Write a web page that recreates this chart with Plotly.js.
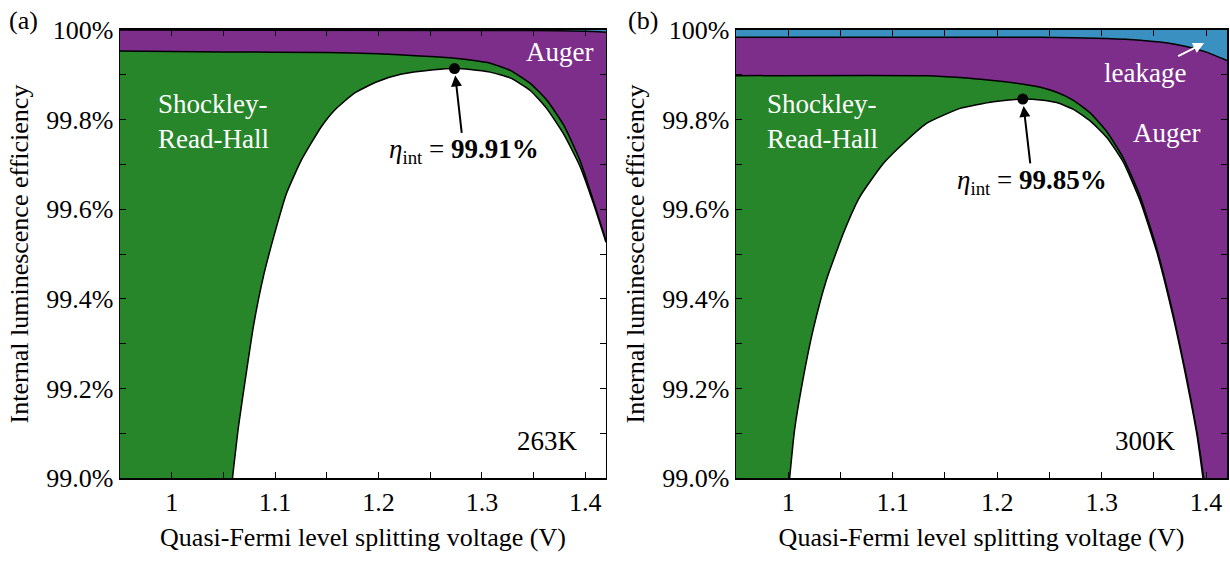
<!DOCTYPE html>
<html><head><meta charset="utf-8">
<script src="https://cdn.plot.ly/plotly-3.0.1.min.js"></script>
<style>body{margin:0;background:#fff}#chart{width:1230px;height:561px}</style>
</head><body><div id="chart"></div>
<script>
// ---------- Panel (a) 263K ----------
const aTopX = [0.95, 1.42];
const aTopY = [100, 100];
const aAugTopX = [0.95, 1.35, 1.40, 1.42];
const aAugTopY = [100.0, 99.999, 99.997, 99.995];
const aSrhTopX = [0.95, 1.05, 1.15, 1.2, 1.24, 1.27, 1.2887, 1.308, 1.3274, 1.3468, 1.3629, 1.379, 1.3952, 1.408, 1.42];
const aSrhTopY = [99.953, 99.951, 99.95, 99.947, 99.942, 99.938, 99.933, 99.926, 99.91, 99.881, 99.843, 99.788, 99.707, 99.617, 99.53];
const aEtaX = [1.0588, 1.0646, 1.0716, 1.079, 1.0886, 1.1014, 1.111, 1.1255, 1.1447, 1.1575, 1.1767, 1.1992, 1.2215, 1.2535, 1.2735, 1.2887, 1.308, 1.3274, 1.3468, 1.3629, 1.379, 1.3952, 1.408, 1.42];
const aEtaY = [99.0, 99.115, 99.226, 99.338, 99.449, 99.561, 99.635, 99.71, 99.784, 99.821, 99.859, 99.885, 99.901, 99.911, 99.914, 99.912, 99.906, 99.893, 99.865, 99.824, 99.768, 99.694, 99.612, 99.526];
const aPeak = {x: 1.2735, y: 99.914, label: '99.91%', temp: '263K'};

// ---------- Panel (b) 300K ----------
const bTopX = [0.95, 1.42];
const bTopY = [100, 100];
const bAugTopX = [0.95, 1.1, 1.2, 1.2414, 1.305, 1.337, 1.369, 1.385, 1.401, 1.42];
const bAugTopY = [99.984, 99.984, 99.984, 99.984, 99.981, 99.977, 99.969, 99.961, 99.95, 99.932];
const bSrhTopX = [0.95, 1.1325, 1.1644, 1.196, 1.228, 1.2414, 1.257, 1.273, 1.289, 1.305, 1.321, 1.337, 1.353, 1.369, 1.3818, 1.3914, 1.3977];
const bSrhTopY = [99.898, 99.898, 99.894, 99.887, 99.878, 99.872, 99.861, 99.843, 99.815, 99.773, 99.713, 99.628, 99.51, 99.36, 99.219, 99.1, 99.0];
const bEtaX = [1.0013, 1.006, 1.014, 1.0237, 1.0365, 1.0541, 1.0686, 1.091, 1.1135, 1.1327, 1.1644, 1.1964, 1.2245, 1.2414, 1.257, 1.273, 1.289, 1.305, 1.321, 1.337, 1.353, 1.369, 1.3818, 1.3914, 1.397];
const bEtaY = [99.0, 99.107, 99.219, 99.33, 99.442, 99.554, 99.628, 99.702, 99.754, 99.792, 99.825, 99.840, 99.846, 99.844, 99.838, 99.823, 99.797, 99.76, 99.704, 99.618, 99.503, 99.354, 99.213, 99.094, 99.0];
const bPeak = {x: 1.2245, y: 99.846, label: '99.85%', temp: '300K'};

// ---------- Axis ticks ----------
const xTickVals = [1, 1.1, 1.2, 1.3, 1.4];
const xTickText = ['1', '1.1', '1.2', '1.3', '1.4'];
const yTickVals = [99.0, 99.2, 99.4, 99.6, 99.8, 100];
const yTickText = ['99.0%', '99.2%', '99.4%', '99.6%', '99.8%', '100%'];
const xRange = [0.95, 1.42];
const yRange = [99.0, 100.0];

const C_BLUE = '#3b90c2', C_PURPLE = '#7d2e8b', C_GREEN = '#27862a';
const FONT = 'Liberation Serif';

function area(x, y, color, xa, ya, lw) {
  return {x: x, y: y, xaxis: xa, yaxis: ya, type: 'scatter', mode: 'lines',
    fill: 'tozeroy', fillcolor: color,
    line: {color: '#000', width: lw, shape: 'spline', smoothing: 0.5},
    hoverinfo: 'skip', showlegend: false};
}

const traces = [
  area(aTopX, aTopY, C_BLUE, 'x', 'y', 0),
  area(aAugTopX, aAugTopY, C_PURPLE, 'x', 'y', 1.5),
  area(aSrhTopX, aSrhTopY, C_GREEN, 'x', 'y', 1.5),
  area(aEtaX, aEtaY, '#ffffff', 'x', 'y', 1.5),
  {x: [aPeak.x], y: [aPeak.y], xaxis: 'x', yaxis: 'y', mode: 'markers', type: 'scatter',
   marker: {color: '#000', size: 11}, showlegend: false, hoverinfo: 'skip'},
  area(bTopX, bTopY, C_BLUE, 'x2', 'y2', 0),
  area(bAugTopX, bAugTopY, C_PURPLE, 'x2', 'y2', 1.5),
  area(bSrhTopX, bSrhTopY, C_GREEN, 'x2', 'y2', 1.5),
  area(bEtaX, bEtaY, '#ffffff', 'x2', 'y2', 1.5),
  {x: [bPeak.x], y: [bPeak.y], xaxis: 'x2', yaxis: 'y2', mode: 'markers', type: 'scatter',
   marker: {color: '#000', size: 11}, showlegend: false, hoverinfo: 'skip'}
];

function xAxis(domain, anchor) {
  return {domain: domain, anchor: anchor, range: xRange, showgrid: false, zeroline: false,
    showline: true, linecolor: '#000', linewidth: 2, mirror: 'allticks',
    ticks: 'inside', ticklen: 6, tickwidth: 1, tickcolor: '#000',
    tickmode: 'array', tickvals: xTickVals, ticktext: xTickText,
    minor: {dtick: 0.05, tick0: 1, ticks: 'inside', ticklen: 6, tickwidth: 1, tickcolor: '#000', showgrid: false},
    tickfont: {family: FONT, size: 26, color: '#000'},
    automargin: true,
    title: {text: 'Quasi-Fermi level splitting voltage (V)', font: {family: FONT, size: 26, color: '#000'}, standoff: 12},
    fixedrange: true};
}
function yAxis(anchor) {
  return {domain: [0, 1], anchor: anchor, range: yRange, showgrid: false, zeroline: false,
    showline: true, linecolor: '#000', linewidth: 1.5, mirror: 'allticks',
    ticks: 'inside', ticklen: 6, tickwidth: 1, tickcolor: '#000',
    tickmode: 'array', tickvals: yTickVals, ticktext: yTickText,
    minor: {dtick: 0.1, tick0: 99, ticks: 'inside', ticklen: 6, tickwidth: 1, tickcolor: '#000', showgrid: false},
    tickfont: {family: FONT, size: 26, color: '#000'},
    automargin: true,
    title: {text: 'Internal luminescence efficiency', font: {family: FONT, size: 26, color: '#000'}, standoff: 10},
    fixedrange: true};
}

function txt(text, x, y, xr, yr, size, color, extra) {
  return Object.assign({text: text, x: x, y: y, xref: xr, yref: yr, showarrow: false,
    font: {family: FONT, size: size, color: color}}, extra || {});
}
// text placed at (tx, ty) with an arrow pointing to (hx, hy)
function arrowText(text, hx, hy, tx, ty, xr, yr, size, color) {
  return {text: text, x: hx, y: hy, ax: tx, ay: ty, xref: xr, yref: yr, axref: xr, ayref: yr,
    showarrow: true, arrowhead: 2, arrowsize: 1.1, arrowwidth: 2, arrowcolor: color, standoff: 7,
    font: {family: FONT, size: size, color: color}};
}

const annotations = [
  {text: '(a)', x: -0.0876, y: 1.022, xref: 'paper', yref: 'paper', showarrow: false,
   xanchor: 'center', yanchor: 'middle', font: {family: FONT, size: 26, color: '#000'}},
  {text: '(b)', x: 0.472, y: 1.022, xref: 'paper', yref: 'paper', showarrow: false,
   xanchor: 'center', yanchor: 'middle', font: {family: FONT, size: 26, color: '#000'}},
  txt('Shockley-<br>Read-Hall', 0.9846, 99.796, 'x', 'y', 27, '#fff', {xanchor: 'left', align: 'left'}),
  txt('Auger', 1.375, 99.95, 'x', 'y', 27, '#fff'),
  arrowText('<i>η</i><sub>int</sub> = <b>' + aPeak.label + '</b>', aPeak.x, aPeak.y, 1.2825, 99.729, 'x', 'y', 27, '#000'),
  txt(aPeak.temp, 1.363, 99.082, 'x', 'y', 27, '#000'),
  txt('Shockley-<br>Read-Hall', 0.9777, 99.796, 'x2', 'y2', 27, '#fff', {xanchor: 'left', align: 'left'}),
  txt('Auger', 1.3617, 99.769, 'x2', 'y2', 27, '#fff'),
  arrowText('leakage', 1.4041, 99.978, 1.3419, 99.905, 'x2', 'y2', 27, '#fff'),
  arrowText('<i>η</i><sub>int</sub> = <b>' + bPeak.label + '</b>', bPeak.x, bPeak.y, 1.2337, 99.661, 'x2', 'y2', 27, '#000'),
  txt(bPeak.temp, 1.3419, 99.082, 'x2', 'y2', 27, '#000')
];

const layout = {
  width: 1230, height: 561,
  margin: {l: 120, r: 3, t: 30, b: 83, autoexpand: false},
  paper_bgcolor: '#fff', plot_bgcolor: '#fff',
  font: {family: FONT, color: '#000'},
  xaxis: xAxis([0, 0.439], 'y'),
  yaxis: yAxis('x'),
  xaxis2: xAxis([0.5565, 1], 'y2'),
  yaxis2: yAxis('x2'),
  annotations: annotations,
  showlegend: false
};

Plotly.newPlot('chart', traces, layout, {displayModeBar: false, staticPlot: true});
</script>
</body></html>
